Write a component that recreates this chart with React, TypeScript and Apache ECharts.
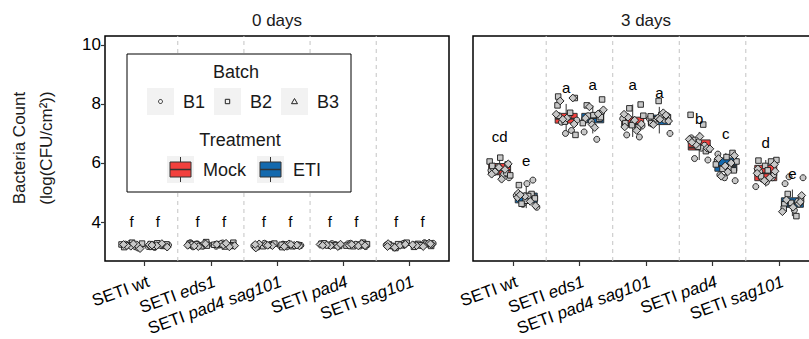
import React, { useEffect, useRef } from "react";
import * as echarts from "echarts";

const FONT = "'Liberation Sans', Arial, Helvetica, sans-serif";

const GENOTYPES = ["wt", "eds1", "pad4 sag101", "pad4", "sag101"];
const TREATMENTS = ["Mock", "ETI"];
const TREATMENT_COLORS = ["#F2403D", "#1369AE"];
const BATCHES = ["B1", "B2", "B3"];
const DAYS = ["0 days", "3 days"];
const Y_TICKS = [4, 6, 8, 10];
const X_TICKS = [0, 1, 2, 3, 4];
const SEPARATORS = [0.5, 1.5, 2.5, 3.5];
const Y_MIN = 2.68;
const Y_MAX = 10.3;

// Box stats [lowWhisker, q1, median, q3, highWhisker]; order: genotype x (Mock, ETI)
const BOX_DAY0 = [
  [3.12, 3.18, 3.22, 3.26, 3.3],
  [3.14, 3.18, 3.22, 3.25, 3.28],
  [3.16, 3.2, 3.23, 3.27, 3.32],
  [3.17, 3.2, 3.23, 3.27, 3.3],
  [3.12, 3.19, 3.22, 3.25, 3.28],
  [3.15, 3.18, 3.21, 3.23, 3.26],
  [3.17, 3.2, 3.22, 3.25, 3.28],
  [3.17, 3.2, 3.23, 3.25, 3.3],
  [3.12, 3.18, 3.22, 3.25, 3.3],
  [3.16, 3.2, 3.23, 3.27, 3.3],
];
const BOX_DAY3 = [
  [5.38, 5.6, 5.76, 5.98, 6.2],
  [4.47, 4.65, 4.85, 4.98, 5.3],
  [6.95, 7.35, 7.5, 7.68, 8.0],
  [7.0, 7.36, 7.52, 7.68, 7.95],
  [6.88, 7.22, 7.32, 7.55, 7.98],
  [7.0, 7.3, 7.45, 7.62, 7.9],
  [6.1, 6.44, 6.52, 6.78, 7.05],
  [5.4, 5.72, 5.9, 6.17, 6.34],
  [5.2, 5.4, 5.65, 5.92, 6.1],
  [4.2, 4.5, 4.65, 4.82, 5.1],
];

// Points per group: [B1 values, B2 values, B3 values]
const PTS_DAY0 = [
  [[3.22, 3.16, 3.28, 3.2, 3.25, 3.12], [3.3, 3.24, 3.19, 3.21, 3.27, 3.15], [3.23, 3.18, 3.26, 3.2, 3.1, 3.24]],
  [[3.2, 3.26, 3.17, 3.23, 3.14, 3.22], [3.25, 3.19, 3.28, 3.21, 3.16, 3.24], [3.18, 3.23, 3.27, 3.2, 3.15, 3.22]],
  [[3.24, 3.3, 3.19, 3.26, 3.21, 3.16], [3.32, 3.27, 3.22, 3.18, 3.25, 3.2], [3.23, 3.28, 3.17, 3.21, 3.26, 3.19]],
  [[3.22, 3.27, 3.18, 3.24, 3.2, 3.29], [3.3, 3.25, 3.21, 3.17, 3.23, 3.19], [3.26, 3.2, 3.24, 3.16, 3.22, 3.28]],
  [[3.21, 3.25, 3.17, 3.23, 3.28, 3.19], [3.24, 3.2, 3.27, 3.15, 3.22, 3.18], [3.23, 3.26, 3.2, 3.12, 3.24, 3.21]],
  [[3.19, 3.23, 3.16, 3.21, 3.25, 3.2], [3.22, 3.18, 3.24, 3.2, 3.15, 3.23], [3.21, 3.26, 3.19, 3.17, 3.22, 3.24]],
  [[3.24, 3.2, 3.27, 3.22, 3.18, 3.25], [3.26, 3.21, 3.23, 3.19, 3.28, 3.22], [3.2, 3.24, 3.17, 3.22, 3.25, 3.21]],
  [[3.22, 3.26, 3.19, 3.23, 3.17, 3.28], [3.3, 3.24, 3.2, 3.22, 3.18, 3.25], [3.21, 3.27, 3.23, 3.19, 3.24, 3.2]],
  [[3.2, 3.26, 3.15, 3.22, 3.28, 3.18], [3.3, 3.24, 3.21, 3.12, 3.25, 3.19], [3.23, 3.27, 3.17, 3.21, 3.14, 3.25]],
  [[3.22, 3.28, 3.18, 3.25, 3.2, 3.3], [3.26, 3.19, 3.23, 3.16, 3.27, 3.21], [3.24, 3.2, 3.29, 3.17, 3.23, 3.26]],
];
const PTS_DAY3 = [
  [[5.75, 5.62, 5.88, 5.5, 5.8, 5.66], [6.18, 6.05, 5.95, 5.72, 5.58, 5.9], [5.78, 5.85, 5.45, 5.7, 5.97, 5.62]],
  [[5.42, 5.3, 4.9, 4.85, 4.6, 4.5], [5.25, 4.95, 4.72, 4.88, 4.62, 4.8], [4.98, 4.83, 4.7, 4.87, 4.55, 4.92]],
  [[7.45, 7.6, 7.1, 7.0, 7.55, 7.38], [8.2, 8.25, 7.95, 7.7, 7.4, 6.95], [8.1, 8.2, 7.52, 7.65, 7.32, 7.48]],
  [[7.6, 7.7, 7.45, 7.05, 6.8, 7.4], [8.15, 7.95, 7.5, 7.62, 7.35, 7.55], [7.9, 7.8, 7.52, 7.66, 7.3, 7.2]],
  [[7.3, 7.25, 6.95, 6.88, 7.4, 7.5], [7.98, 7.85, 7.6, 7.35, 7.2, 7.28], [7.45, 7.55, 7.32, 7.22, 7.65, 7.1]],
  [[7.5, 7.6, 7.4, 7.0, 7.32, 7.45], [8.1, 7.62, 7.48, 7.55, 7.35, 7.58], [7.7, 7.52, 7.42, 7.3, 7.62, 7.48]],
  [[6.6, 6.72, 6.5, 6.15, 6.1, 6.85], [7.63, 7.3, 6.55, 6.45, 6.78, 6.4], [6.9, 6.8, 6.5, 6.62, 6.48, 6.7]],
  [[6.3, 6.1, 5.85, 5.5, 5.4, 5.6], [6.34, 6.2, 5.95, 5.75, 5.8, 6.05], [6.15, 6.0, 5.9, 5.7, 5.55, 6.25]],
  [[5.7, 5.5, 5.35, 5.2, 5.6, 5.45], [6.1, 6.08, 6.05, 5.9, 5.75, 5.55], [5.95, 5.8, 5.65, 5.5, 5.4, 5.72]],
  [[5.53, 5.5, 5.3, 4.7, 4.55, 4.4], [4.95, 4.8, 4.6, 4.45, 4.2, 4.65], [4.9, 4.75, 4.62, 4.5, 4.35, 4.68]],
];

const LETTERS_DAY0 = ["f", "f", "f", "f", "f", "f", "f", "f", "f", "f"];
const LETTER_Y_DAY0 = [4.03, 4.03, 4.03, 4.03, 4.03, 4.03, 4.03, 4.03, 4.03, 4.03];
const LETTERS_DAY3 = ["cd", "e", "a", "a", "a", "a", "b", "c", "d", "e"];
const LETTER_Y_DAY3 = [6.88, 6.1, 8.55, 8.65, 8.65, 8.4, 7.5, 7.0, 6.71, 5.66];

// Hand-set horizontal jitter pattern (category units)
const JITTER = [-0.13, 0.06, -0.02, 0.14, -0.09, 0.1, 0.01, -0.15, 0.12, -0.05, 0.16, -0.11, 0.08, -0.01, 0.03, -0.07, 0.13, -0.12];

const DODGE = 0.2;
const BOX_WIDTH = 0.33;
const LABEL_SHIFT = 0.06;

const groupX = (g: number) => Math.floor(g / 2) + (g % 2 === 0 ? -DODGE : DODGE);

function buildOption() {
  const panels = [
    { boxes: BOX_DAY0, pts: PTS_DAY0, letters: LETTERS_DAY0, letterY: LETTER_Y_DAY0 },
    { boxes: BOX_DAY3, pts: PTS_DAY3, letters: LETTERS_DAY3, letterY: LETTER_Y_DAY3 },
  ];

  const grids = [
    { left: 105, top: 36, width: 344, height: 225 },
    { left: 473, top: 36, width: 346, height: 225 },
  ].map((g) => ({
    ...g,
    show: true,
    borderColor: "#000",
    borderWidth: 1.5,
    backgroundColor: "transparent",
    containLabel: false,
    outerBoundsMode: "none",
  }));

  const xAxes = [0, 1].map((i) => ({
    type: "value",
    gridIndex: i,
    min: -0.6,
    max: 4.6,
    axisLine: { show: false, onZero: false },
    splitLine: { show: false },
    axisTick: { show: true, customValues: X_TICKS, length: 5, lineStyle: { color: "#333", width: 1.2 } },
    axisLabel: {
      show: true,
      customValues: X_TICKS.map((v) => v + LABEL_SHIFT),
      rotate: 20,
      margin: 20,
      fontSize: 17,
      fontFamily: FONT,
      color: "#000",
      formatter: (v: number) => {
        const g = GENOTYPES[Math.round(v)];
        return g === "wt" ? "SETI wt" : "SETI {i|" + g + "}";
      },
      rich: { i: { fontStyle: "italic", fontSize: 17, fontFamily: FONT, color: "#000" } },
    },
  }));

  const yAxes = [0, 1].map((i) => ({
    type: "value",
    gridIndex: i,
    min: Y_MIN,
    max: Y_MAX,
    axisLine: { show: false, onZero: false },
    splitLine: { show: false },
    axisTick: { show: i === 0, customValues: Y_TICKS, length: 4, lineStyle: { color: "#333", width: 1.2 } },
    axisLabel: { show: i === 0, customValues: Y_TICKS, margin: 4, fontSize: 17, fontFamily: FONT, color: "#000" },
  }));

  const series: any[] = [];
  const symbols = [
    { symbol: "circle", size: 6, rotate: 0 },
    { symbol: "rect", size: 5.5, rotate: 0 },
    { symbol: "rect", size: 5.5, rotate: 45 },
  ];

  panels.forEach((p, pi) => {
    // dashed separators
    series.push({
      type: "custom",
      xAxisIndex: pi,
      yAxisIndex: pi,
      z: 1,
      silent: true,
      data: SEPARATORS.map((v) => [v]),
      encode: { x: 0 },
      renderItem: (params: any, api: any) => {
        const v = api.value(0);
        const a = api.coord([v, Y_MIN]);
        const b = api.coord([v, Y_MAX]);
        return {
          type: "line",
          shape: { x1: a[0], y1: a[1], x2: b[0], y2: b[1] },
          style: { stroke: "#c4c4c4", lineWidth: 1, lineDash: [4, 4] },
        };
      },
    });
    // boxes
    series.push({
      type: "custom",
      xAxisIndex: pi,
      yAxisIndex: pi,
      z: 2,
      data: p.boxes.map((b, g) => [groupX(g), ...b, g % 2]),
      encode: { x: 0, y: [1, 2, 3, 4, 5] },
      renderItem: (params: any, api: any) => {
        const x = api.value(0);
        const w = api.size([BOX_WIDTH, 0])[0];
        const lo = api.coord([x, api.value(1)]);
        const q1 = api.coord([x, api.value(2)]);
        const md = api.coord([x, api.value(3)]);
        const q3 = api.coord([x, api.value(4)]);
        const hi = api.coord([x, api.value(5)]);
        const color = TREATMENT_COLORS[api.value(6)];
        return {
          type: "group",
          children: [
            { type: "line", shape: { x1: lo[0], y1: lo[1], x2: q1[0], y2: q1[1] }, style: { stroke: "#333", lineWidth: 1 } },
            { type: "line", shape: { x1: q3[0], y1: q3[1], x2: hi[0], y2: hi[1] }, style: { stroke: "#333", lineWidth: 1 } },
            {
              type: "rect",
              shape: { x: q3[0] - w / 2, y: q3[1], width: w, height: q1[1] - q3[1] },
              style: { fill: color, stroke: "#333", lineWidth: 1 },
            },
            { type: "line", shape: { x1: md[0] - w / 2, y1: md[1], x2: md[0] + w / 2, y2: md[1] }, style: { stroke: "#333", lineWidth: 2 } },
          ],
        };
      },
    });
    // points
    BATCHES.forEach((bn, b) => {
      const data: number[][] = [];
      p.pts.forEach((grp, g) => {
        grp[b].forEach((v, k) => {
          data.push([groupX(g) + JITTER[(b * 6 + k + g * 5) % JITTER.length], v]);
        });
      });
      series.push({
        type: "scatter",
        name: bn,
        xAxisIndex: pi,
        yAxisIndex: pi,
        z: 3,
        symbol: symbols[b].symbol,
        symbolSize: symbols[b].size,
        symbolRotate: symbols[b].rotate,
        itemStyle: { color: "#c8c8c8", borderColor: "#1a1a1a", borderWidth: 0.9, opacity: 1 },
        data,
      });
    });
    // letters
    series.push({
      type: "custom",
      xAxisIndex: pi,
      yAxisIndex: pi,
      z: 4,
      data: p.letters.map((_, g) => [groupX(g), p.letterY[g]]),
      encode: { x: 0, y: 1 },
      renderItem: (params: any, api: any) => {
        const c = api.coord([api.value(0), api.value(1)]);
        return {
          type: "text",
          x: c[0],
          y: c[1],
          style: {
            text: p.letters[params.dataIndex],
            fill: "#000",
            fontSize: 15,
            fontFamily: FONT,
            align: "center",
            verticalAlign: "middle",
          },
        };
      },
    });
  });

  const Z = 100;
  const txt = (x: number, y: number, text: string, size: number, align = "center", extra: any = {}) => ({
    type: "text",
    x,
    y,
    z: Z,
    ...extra,
    style: { text, fontSize: size, fontFamily: FONT, fill: "#1a1a1a", align, verticalAlign: "middle" },
  });

  const graphic: any[] = [
    txt(277, 20, DAYS[0], 17),
    txt(646, 20, DAYS[1], 17),
    txt(19, 148, "Bacteria Count", 17, "center", { rotation: Math.PI / 2 }),
    txt(46, 148, "(log(CFU/cm²))", 17, "center", { rotation: Math.PI / 2 }),
    // legend box
    { type: "rect", z: Z, shape: { x: 127, y: 54, width: 224, height: 138 }, style: { fill: "#fff", stroke: "#000", lineWidth: 1 } },
    txt(236, 72, "Batch", 18),
    txt(240, 140, "Treatment", 18),
  ];
  BATCHES.forEach((bn, i) => {
    const kx = 147 + 67 * i;
    const cx = kx + 13.5;
    const cy = 101.5;
    graphic.push({ type: "rect", z: Z, shape: { x: kx, y: 88, width: 27, height: 27 }, style: { fill: "#f2f2f2" } });
    if (i === 0) graphic.push({ type: "circle", z: Z + 1, shape: { cx, cy, r: 2 }, style: { fill: "none", stroke: "#222", lineWidth: 1 } });
    if (i === 1) graphic.push({ type: "rect", z: Z + 1, shape: { x: cx - 2.2, y: cy - 2.2, width: 4.4, height: 4.4 }, style: { fill: "none", stroke: "#222", lineWidth: 1 } });
    if (i === 2)
      graphic.push({
        type: "polygon",
        z: Z + 1,
        shape: { points: [[cx, cy - 3], [cx + 3, cy + 2.2], [cx - 3, cy + 2.2]] },
        style: { fill: "none", stroke: "#222", lineWidth: 1 },
      });
    graphic.push(txt(kx + 36, cy, bn, 18, "left"));
  });
  TREATMENTS.forEach((tn, i) => {
    const kx = i === 0 ? 167 : 257;
    const cx = kx + 13.5;
    graphic.push({ type: "rect", z: Z, shape: { x: kx, y: 156, width: 27, height: 27 }, style: { fill: "#f2f2f2" } });
    graphic.push({ type: "line", z: Z + 1, shape: { x1: cx, y1: 157, x2: cx, y2: 182 }, style: { stroke: "#333", lineWidth: 1 } });
    graphic.push({ type: "rect", z: Z + 2, shape: { x: kx + 3, y: 162, width: 21, height: 15 }, style: { fill: TREATMENT_COLORS[i], stroke: "#333", lineWidth: 1 } });
    graphic.push({ type: "line", z: Z + 3, shape: { x1: kx + 3, y1: 169.5, x2: kx + 24, y2: 169.5 }, style: { stroke: "#333", lineWidth: 1.5 } });
    graphic.push(txt(kx + 36, 169.5, tn, 18, "left"));
  });

  return {
    animation: false,
    backgroundColor: "#fff",
    grid: grids,
    xAxis: xAxes,
    yAxis: yAxes,
    series,
    graphic,
  };
}

export default function App() {
  const ref = useRef<HTMLDivElement>(null);
  useEffect(() => {
    document.body.style.margin = "0";
    const chart = echarts.init(ref.current!, null, { renderer: "svg" });
    chart.setOption(buildOption() as any);
    return () => chart.dispose();
  }, []);
  return <div ref={ref} style={{ width: 809, height: 339 }} />;
}
